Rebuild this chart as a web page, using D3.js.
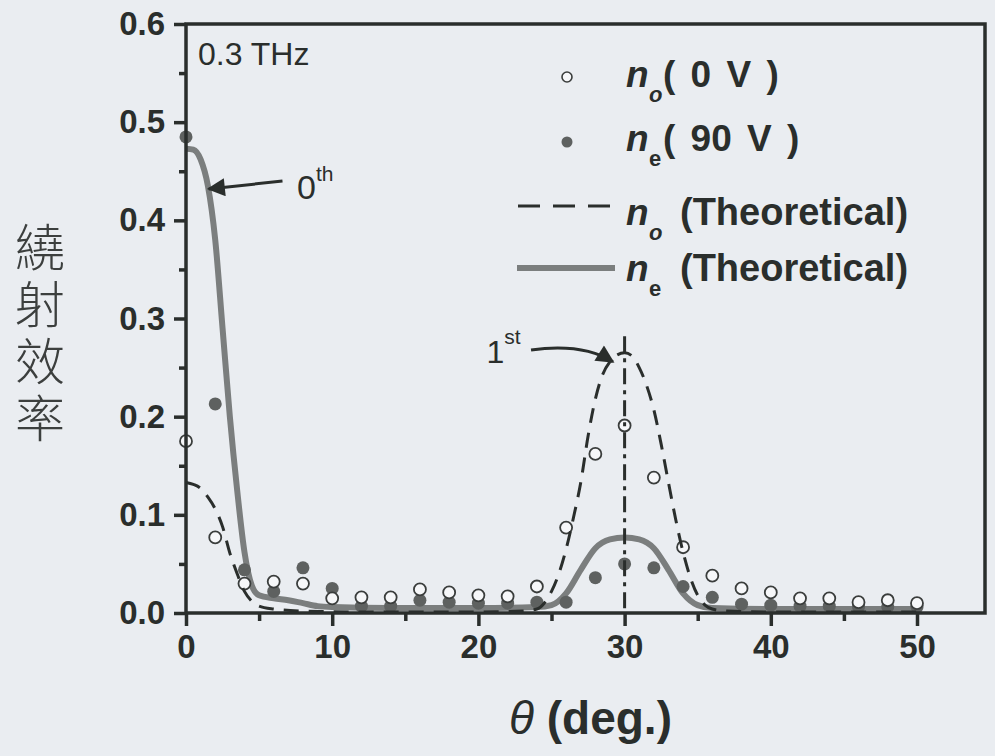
<!DOCTYPE html>
<html>
<head>
<meta charset="utf-8">
<script src="https://cdn.jsdelivr.net/npm/d3@7/dist/d3.min.js"></script>
<style>
body { margin: 0; background: #eaedf1; }
svg { display: block; }
text { font-family: "Liberation Sans", Arial, sans-serif; fill: #2a2e2c; }
</style>
</head>
<body>
<svg id="chart" width="995" height="756"></svg>
<script>
// measured angles (deg)
const measAngle = [0, 2, 4, 6, 8, 10, 12, 14, 16, 18, 20, 22, 24, 26, 28, 30, 32, 34, 36, 38, 40, 42, 44, 46, 48, 50]
// n_o (0 V) open circles
const noMeasured = [0.175, 0.077, 0.030, 0.032, 0.030, 0.015, 0.016, 0.016, 0.024, 0.021, 0.018, 0.017, 0.027,
    0.087, 0.162, 0.191, 0.138, 0.067, 0.038, 0.025, 0.021, 0.015, 0.015, 0.011, 0.013, 0.010]
// n_e (90 V) filled circles
const neMeasured = [0.485, 0.213, 0.044, 0.022, 0.046, 0.025, 0.007, 0.007, 0.013, 0.011, 0.010, 0.010, 0.011,
    0.011, 0.036, 0.050, 0.046, 0.027, 0.016, 0.009, 0.008, 0.007, 0.007, 0.006, 0.006, 0.006]

// theoretical n_o (dashed)
const noTheoAngle = [0, 0.5, 1, 1.5, 2, 2.5, 3, 3.5, 4, 4.5, 5, 6, 8, 12, 20, 23, 24, 24.5, 25, 25.5, 26, 26.5, 27,
    27.5, 28, 28.5, 29, 29.5, 30, 30.5, 31, 31.5, 32, 32.5, 33, 33.5, 34, 34.5, 35, 35.5, 36, 37, 40, 50]
const noTheoValue = [0.133, 0.131, 0.127, 0.118, 0.106, 0.088, 0.061, 0.040, 0.022, 0.012, 0.007, 0.004, 0.002,
    0.001, 0.001, 0.002, 0.004, 0.010, 0.022, 0.040, 0.065, 0.097, 0.133, 0.180, 0.218, 0.243, 0.256, 0.263, 0.265,
    0.262, 0.250, 0.232, 0.207, 0.172, 0.133, 0.095, 0.062, 0.036, 0.018, 0.008, 0.004, 0.002, 0.001, 0.001]

// theoretical n_e (solid)
const neTheoAngle = [0, 0.5, 1, 1.5, 2, 2.5, 3, 3.5, 4, 4.5, 5, 6, 7, 8, 9, 10, 14, 20, 24, 25, 26, 27, 28, 29, 30,
    31, 32, 33, 34, 35, 36, 40, 50]
const neTheoValue = [0.473, 0.472, 0.462, 0.435, 0.380, 0.290, 0.200, 0.125, 0.062, 0.028, 0.018, 0.015, 0.013,
    0.010, 0.007, 0.006, 0.005, 0.005, 0.006, 0.008, 0.020, 0.044, 0.066, 0.075, 0.077, 0.075, 0.066, 0.044, 0.020,
    0.008, 0.005, 0.004, 0.004]

const xTicks = [0, 10, 20, 30, 40, 50]
const xMinor = [5, 15, 25, 35, 45]
const yTicks = [0, 0.1, 0.2, 0.3, 0.4, 0.5, 0.6]
const yMinor = [0.05, 0.15, 0.25, 0.35, 0.45, 0.55]

const ink = '#2a2e2c'
const svg = d3.select('#chart')

const x = d3.scaleLinear().domain([0, 50]).range([186, 917])
const y = d3.scaleLinear().domain([0, 0.6]).range([613, 24])
const xEnd = 985

svg.append('defs').append('marker')
    .attr('id', 'head')
    .attr('viewBox', '0 0 10 10')
    .attr('refX', 9).attr('refY', 5)
    .attr('markerWidth', 7).attr('markerHeight', 6)
    .attr('markerUnits', 'strokeWidth')
    .attr('orient', 'auto')
    .append('path')
    .attr('d', 'M0,0L10,5L0,10Z')
    .attr('fill', ink)

// theoretical curves
let line = d3.line()
    .x(d => x(d[0]))
    .y(d => y(d[1]))
    .curve(d3.curveMonotoneX)

svg.append('path')
    .datum(neTheoAngle.map((a, i) => [a, neTheoValue[i]]))
    .attr('d', line)
    .attr('fill', 'none')
    .attr('stroke', '#7b7e7e')
    .attr('stroke-width', 6)

// measured points
svg.selectAll('.ne')
    .data(measAngle.map((a, i) => [a, neMeasured[i]]))
    .enter().append('circle')
    .attr('class', 'ne')
    .attr('cx', d => x(d[0]))
    .attr('cy', d => y(d[1]))
    .attr('r', 6.5)
    .attr('fill', '#5e6160')

svg.selectAll('.no')
    .data(measAngle.map((a, i) => [a, noMeasured[i]]))
    .enter().append('circle')
    .attr('class', 'no')
    .attr('cx', d => x(d[0]))
    .attr('cy', d => y(d[1]))
    .attr('r', 6)
    .attr('fill', '#f6f7f9')
    .attr('stroke', '#3a3d3c')
    .attr('stroke-width', 1.8)

svg.append('path')
    .datum(noTheoAngle.map((a, i) => [a, noTheoValue[i]]))
    .attr('d', line)
    .attr('fill', 'none')
    .attr('stroke', ink)
    .attr('stroke-width', 3)
    .attr('stroke-dasharray', '15,10')

// dash-dot marker of the 1st order
svg.append('line')
    .attr('x1', x(30)).attr('x2', x(30))
    .attr('y1', y(0.282)).attr('y2', y(0))
    .attr('stroke', ink)
    .attr('stroke-width', 3)
    .attr('stroke-dasharray', '16,6,4,6')

// frame
svg.append('rect')
    .attr('x', x(0)).attr('y', y(0.6))
    .attr('width', xEnd - x(0)).attr('height', y(0) - y(0.6))
    .attr('fill', 'none')
    .attr('stroke', ink)
    .attr('stroke-width', 3.5)

// axes
function styleAxis(g) {
    g.select('.domain').remove()
    g.selectAll('.tick line').attr('stroke', ink).attr('stroke-width', 3.5)
    g.selectAll('.tick text')
        .attr('fill', ink)
        .style('font-size', '33px')
        .style('font-weight', 'bold')
}

svg.append('g')
    .attr('transform', 'translate(0,' + y(0) + ')')
    .call(d3.axisBottom(x).tickValues(xTicks).tickSize(13).tickPadding(9).tickFormat(d3.format('d')))
    .call(styleAxis)
svg.append('g')
    .attr('transform', 'translate(0,' + y(0) + ')')
    .call(d3.axisBottom(x).tickValues(xMinor).tickSize(8).tickFormat(''))
    .call(styleAxis)

svg.append('g')
    .attr('transform', 'translate(' + x(0) + ',0)')
    .call(d3.axisLeft(y).tickValues(yTicks).tickSize(12).tickPadding(9).tickFormat(d3.format('.1f')))
    .call(styleAxis)
svg.append('g')
    .attr('transform', 'translate(' + x(0) + ',0)')
    .call(d3.axisLeft(y).tickValues(yMinor).tickSize(7).tickFormat(''))
    .call(styleAxis)

// axis titles
let xt = svg.append('text')
    .attr('x', (x(0) + xEnd) / 2 + 5)
    .attr('y', 734)
    .attr('text-anchor', 'middle')
    .style('font-size', '46px')
    .style('font-weight', 'bold')
xt.append('tspan').text('θ').style('font-style', 'italic').style('font-weight', 'normal')
xt.append('tspan').text(' (deg.)')

svg.append('text')
    .attr('x', 40)
    .attr('y', 222)
    .style('writing-mode', 'vertical-rl')
    .style('font-family', '"Noto Sans CJK TC", sans-serif')
    .style('font-size', '50px')
    .style('font-weight', 300)
    .style('letter-spacing', '7px')
    .style('fill', '#3c3f3e')
    .text('繞射效率')

// panel label
svg.append('text')
    .attr('x', x(0) + 12).attr('y', y(0.6) + 41)
    .style('font-size', '32px')
    .text('0.3 THz')

// order annotations
svg.append('line')
    .attr('x1', x(6.6)).attr('y1', y(0.440))
    .attr('x2', x(1.55)).attr('y2', y(0.432))
    .attr('stroke', ink)
    .attr('stroke-width', 3)
    .attr('marker-end', 'url(#head)')
let t0 = svg.append('text').attr('x', x(7.6)).attr('y', y(0.422)).style('font-size', '34px')
t0.append('tspan').text('0')
t0.append('tspan').text('th').attr('dy', -18).style('font-size', '21px')

let t1 = svg.append('text').attr('x', x(20.55)).attr('y', y(0.255)).style('font-size', '32px')
t1.append('tspan').text('1')
t1.append('tspan').text('st').attr('dy', -19).style('font-size', '21px')

svg.append('path')
    .attr('d', 'M' + x(23.6) + ',' + y(0.268) +
        'C' + x(25.6) + ',' + y(0.272) + ' ' + x(27.6) + ',' + y(0.271) + ' ' + x(29.2) + ',' + y(0.256))
    .attr('fill', 'none')
    .attr('stroke', ink)
    .attr('stroke-width', 3)
    .attr('marker-end', 'url(#head)')

// legend
const legendLabels = [['o', '( 0 V )'], ['e', '( 90 V )'], ['o', '(Theoretical)'], ['e', '(Theoretical)']]
const legendY = [77, 142, 206, 268]
const legendBase = [87, 151, 225, 281]
const lx = 626

let lg = svg.append('g')
lg.append('circle').attr('cx', 567).attr('cy', legendY[0]).attr('r', 5)
    .attr('fill', '#f6f7f9').attr('stroke', '#3a3d3c').attr('stroke-width', 1.6)
lg.append('circle').attr('cx', 567).attr('cy', legendY[1]).attr('r', 5.5).attr('fill', '#5e6160')
lg.append('line').attr('x1', 518).attr('x2', 618).attr('y1', legendY[2]).attr('y2', legendY[2])
    .attr('stroke', ink).attr('stroke-width', 3).attr('stroke-dasharray', '22,13')
lg.append('line').attr('x1', 517).attr('x2', 615).attr('y1', legendY[3]).attr('y2', legendY[3])
    .attr('stroke', '#7b7e7e').attr('stroke-width', 6)

legendLabels.forEach((d, i) => {
    let t = lg.append('text')
        .attr('x', lx).attr('y', legendBase[i])
        .style('font-size', '37px').style('font-weight', 'bold')
    t.append('tspan').text('n').style('font-style', 'italic')
    t.append('tspan')
        .attr('x', lx + 23).attr('dy', 15)
        .style('font-size', '22px')
        .style('font-style', d[0] == 'o' ? 'italic' : 'normal')
        .text(d[0])
    t.append('tspan')
        .attr('x', i < 2 ? lx + 37 : lx + 54).attr('dy', -15)
        .style('font-size', i < 2 ? '37px' : '38px')
        .style('word-spacing', i < 2 ? '5px' : '0px')
        .text(d[1])
})
</script>
</body>
</html>
